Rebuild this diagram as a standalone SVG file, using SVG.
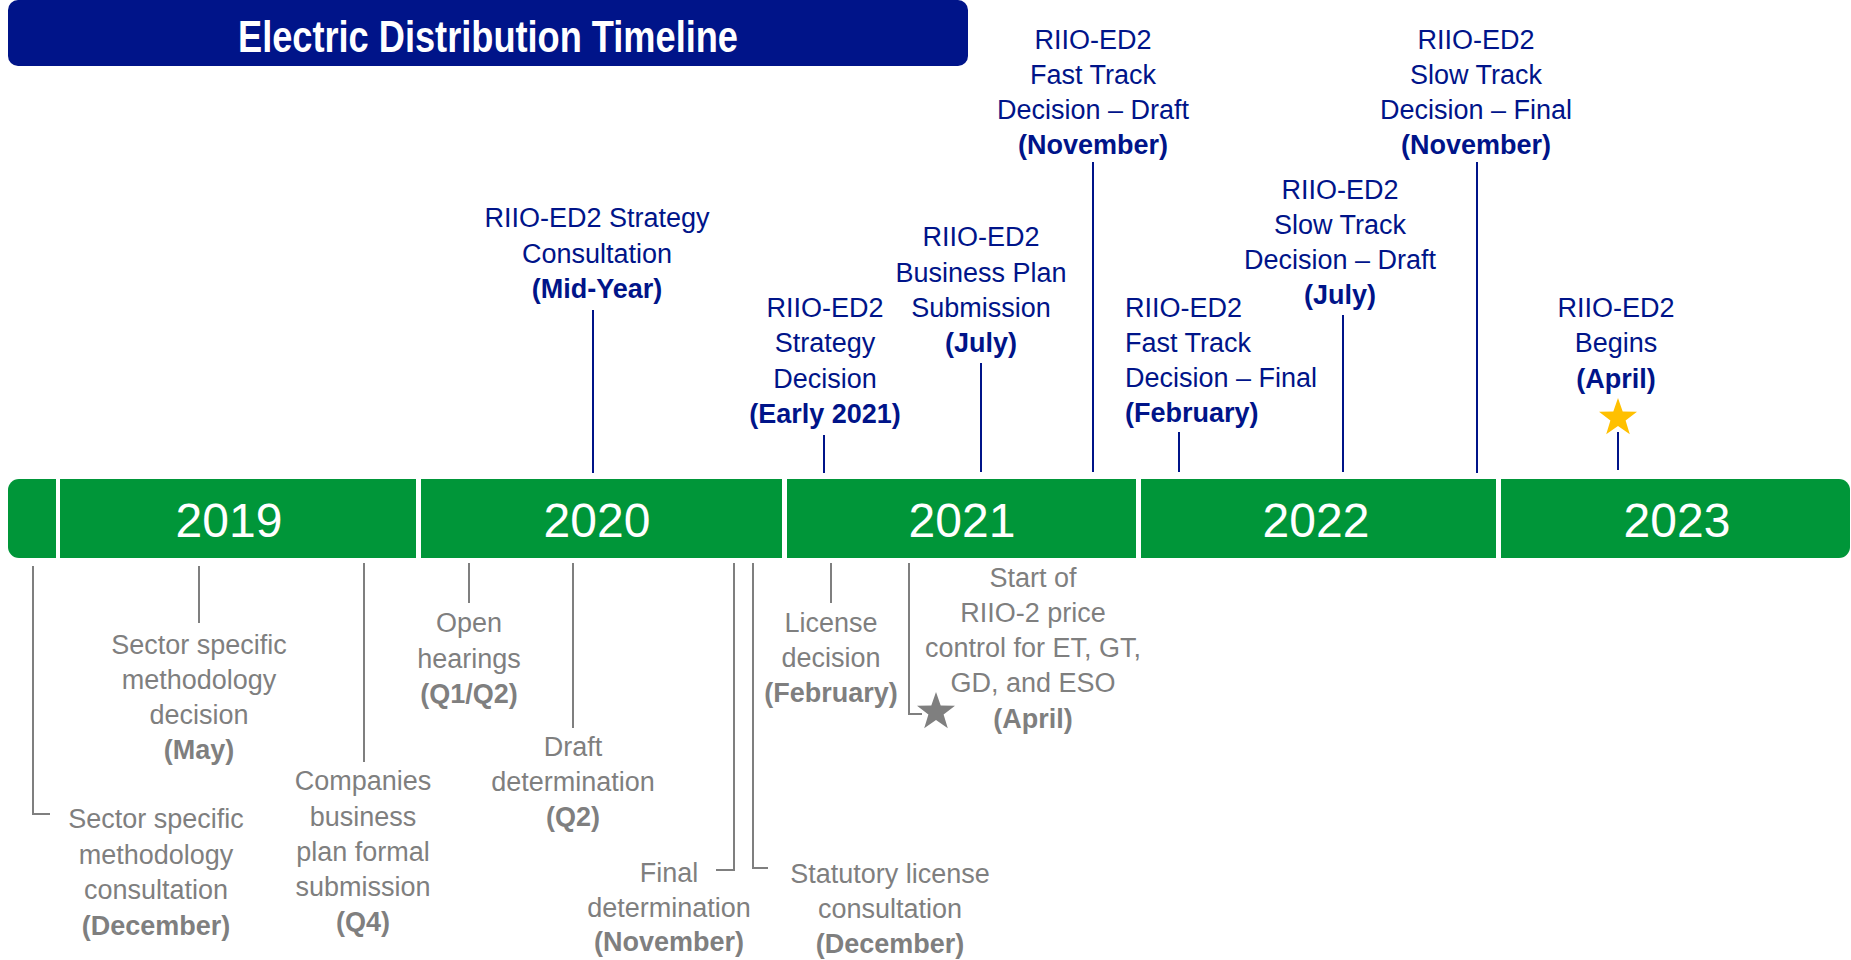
<svg xmlns="http://www.w3.org/2000/svg" width="1851" height="960" viewBox="0 0 1851 960">
<style>
text{font-family:"Liberation Sans",Arial,sans-serif}
.title{font-size:44px;font-weight:bold;fill:#fff}
.yr{font-size:48px;fill:#fff;text-anchor:middle}
.bl{font-size:27px;fill:#001489;text-anchor:middle}
.bll{font-size:27px;fill:#001489;text-anchor:start}
.gr{font-size:27px;fill:#7f7f7f;text-anchor:middle}
.b{font-weight:bold}
.cb{stroke:#001489;stroke-width:2;fill:none}
.cg{stroke:#7f7f7f;stroke-width:2;fill:none}
</style>
<defs>
<polygon id="star" points="0,-20 4.7,-6.5 19,-6.2 7.6,2.5 11.8,16.2 0,8 -11.8,16.2 -7.6,2.5 -19,-6.2 -4.7,-6.5"/>
</defs>
<g id="title">
<rect x="8" y="0" width="960" height="66" rx="10" fill="#001489"/>
<text class="title" x="488" y="52" text-anchor="middle" textLength="500" lengthAdjust="spacingAndGlyphs">Electric Distribution Timeline</text>
</g>
<g id="timeline-bar">
<rect x="8" y="479" width="1842" height="79" rx="11" fill="#009639"/>
<rect x="56" y="479" width="4" height="79" fill="#fff"/>
<rect x="416" y="479" width="5" height="79" fill="#fff"/>
<rect x="782" y="479" width="5" height="79" fill="#fff"/>
<rect x="1136" y="479" width="5" height="79" fill="#fff"/>
<rect x="1496" y="479" width="5" height="79" fill="#fff"/>
<text class="yr" x="229" y="537">2019</text>
<text class="yr" x="597" y="537">2020</text>
<text class="yr" x="962" y="537">2021</text>
<text class="yr" x="1316" y="537">2022</text>
<text class="yr" x="1677" y="537">2023</text>
</g>
<g id="connectors">
<line class="cb" x1="593" y1="310" x2="593" y2="473"/>
<line class="cb" x1="824" y1="435" x2="824" y2="473"/>
<line class="cb" x1="981" y1="363" x2="981" y2="472"/>
<line class="cb" x1="1093" y1="162" x2="1093" y2="472"/>
<line class="cb" x1="1179" y1="432" x2="1179" y2="472"/>
<line class="cb" x1="1343" y1="315" x2="1343" y2="472"/>
<line class="cb" x1="1477" y1="162" x2="1477" y2="473"/>
<line class="cb" x1="1618" y1="432" x2="1618" y2="470"/>
<polyline class="cg" points="33,566 33,814 50,814"/>
<line class="cg" x1="199" y1="566" x2="199" y2="623"/>
<line class="cg" x1="364" y1="563" x2="364" y2="762"/>
<line class="cg" x1="469" y1="563" x2="469" y2="603"/>
<line class="cg" x1="573" y1="563" x2="573" y2="728"/>
<polyline class="cg" points="734,563 734,870 716,870"/>
<polyline class="cg" points="753,563 753,868 768,868"/>
<line class="cg" x1="831" y1="563" x2="831" y2="603"/>
<polyline class="cg" points="909,563 909,714 922,714"/>
</g>
<g id="n-strategy-consultation">
<text class="bl"><tspan x="597" y="227">RIIO-ED2 Strategy</tspan><tspan x="597" y="263">Consultation</tspan><tspan class="b" x="597" y="298">(Mid-Year)</tspan></text>
</g>
<g id="n-strategy-decision">
<text class="bl"><tspan x="825" y="317">RIIO-ED2</tspan><tspan x="825" y="352">Strategy</tspan><tspan x="825" y="388">Decision</tspan><tspan class="b" x="825" y="423">(Early 2021)</tspan></text>
</g>
<g id="n-business-plan">
<text class="bl"><tspan x="981" y="246">RIIO-ED2</tspan><tspan x="981" y="282">Business Plan</tspan><tspan x="981" y="317">Submission</tspan><tspan class="b" x="981" y="352">(July)</tspan></text>
</g>
<g id="n-fast-draft">
<text class="bl"><tspan x="1093" y="49">RIIO-ED2</tspan><tspan x="1093" y="84">Fast Track</tspan><tspan x="1093" y="119">Decision – Draft</tspan><tspan class="b" x="1093" y="154">(November)</tspan></text>
</g>
<g id="n-fast-final">
<text class="bll"><tspan x="1125" y="317">RIIO-ED2</tspan><tspan x="1125" y="352">Fast Track</tspan><tspan x="1125" y="387">Decision – Final</tspan><tspan class="b" x="1125" y="422">(February)</tspan></text>
</g>
<g id="n-slow-draft">
<text class="bl"><tspan x="1340" y="199">RIIO-ED2</tspan><tspan x="1340" y="234">Slow Track</tspan><tspan x="1340" y="269">Decision – Draft</tspan><tspan class="b" x="1340" y="304">(July)</tspan></text>
</g>
<g id="n-slow-final">
<text class="bl"><tspan x="1476" y="49">RIIO-ED2</tspan><tspan x="1476" y="84">Slow Track</tspan><tspan x="1476" y="119">Decision – Final</tspan><tspan class="b" x="1476" y="154">(November)</tspan></text>
</g>
<g id="n-begins">
<text class="bl"><tspan x="1616" y="317">RIIO-ED2</tspan><tspan x="1616" y="352">Begins</tspan><tspan class="b" x="1616" y="388">(April)</tspan></text>
<use href="#star" x="1618" y="418" fill="#FFC000"/>
</g>
<g id="n-ssm-consultation">
<text class="gr"><tspan x="156" y="828">Sector specific</tspan><tspan x="156" y="864">methodology</tspan><tspan x="156" y="899">consultation</tspan><tspan class="b" x="156" y="935">(December)</tspan></text>
</g>
<g id="n-ssm-decision">
<text class="gr"><tspan x="199" y="654">Sector specific</tspan><tspan x="199" y="689">methodology</tspan><tspan x="199" y="724">decision</tspan><tspan class="b" x="199" y="759">(May)</tspan></text>
</g>
<g id="n-business-submission">
<text class="gr"><tspan x="363" y="790">Companies</tspan><tspan x="363" y="826">business</tspan><tspan x="363" y="861">plan formal</tspan><tspan x="363" y="896">submission</tspan><tspan class="b" x="363" y="931">(Q4)</tspan></text>
</g>
<g id="n-open-hearings">
<text class="gr"><tspan x="469" y="632">Open</tspan><tspan x="469" y="668">hearings</tspan><tspan class="b" x="469" y="703">(Q1/Q2)</tspan></text>
</g>
<g id="n-draft-determination">
<text class="gr"><tspan x="573" y="756">Draft</tspan><tspan x="573" y="791">determination</tspan><tspan class="b" x="573" y="826">(Q2)</tspan></text>
</g>
<g id="n-final-determination">
<text class="gr"><tspan x="669" y="882">Final</tspan><tspan x="669" y="917">determination</tspan><tspan class="b" x="669" y="951">(November)</tspan></text>
</g>
<g id="n-statutory-license">
<text class="gr"><tspan x="890" y="883">Statutory license</tspan><tspan x="890" y="918">consultation</tspan><tspan class="b" x="890" y="953">(December)</tspan></text>
</g>
<g id="n-license-decision">
<text class="gr"><tspan x="831" y="632">License</tspan><tspan x="831" y="667">decision</tspan><tspan class="b" x="831" y="702">(February)</tspan></text>
</g>
<g id="n-riio2-start">
<text class="gr"><tspan x="1033" y="587">Start of</tspan><tspan x="1033" y="622">RIIO-2 price</tspan><tspan x="1033" y="657">control for ET, GT,</tspan><tspan x="1033" y="692">GD, and ESO</tspan><tspan class="b" x="1033" y="728">(April)</tspan></text>
<use href="#star" x="936" y="712" fill="#7f7f7f"/>
</g>
</svg>
